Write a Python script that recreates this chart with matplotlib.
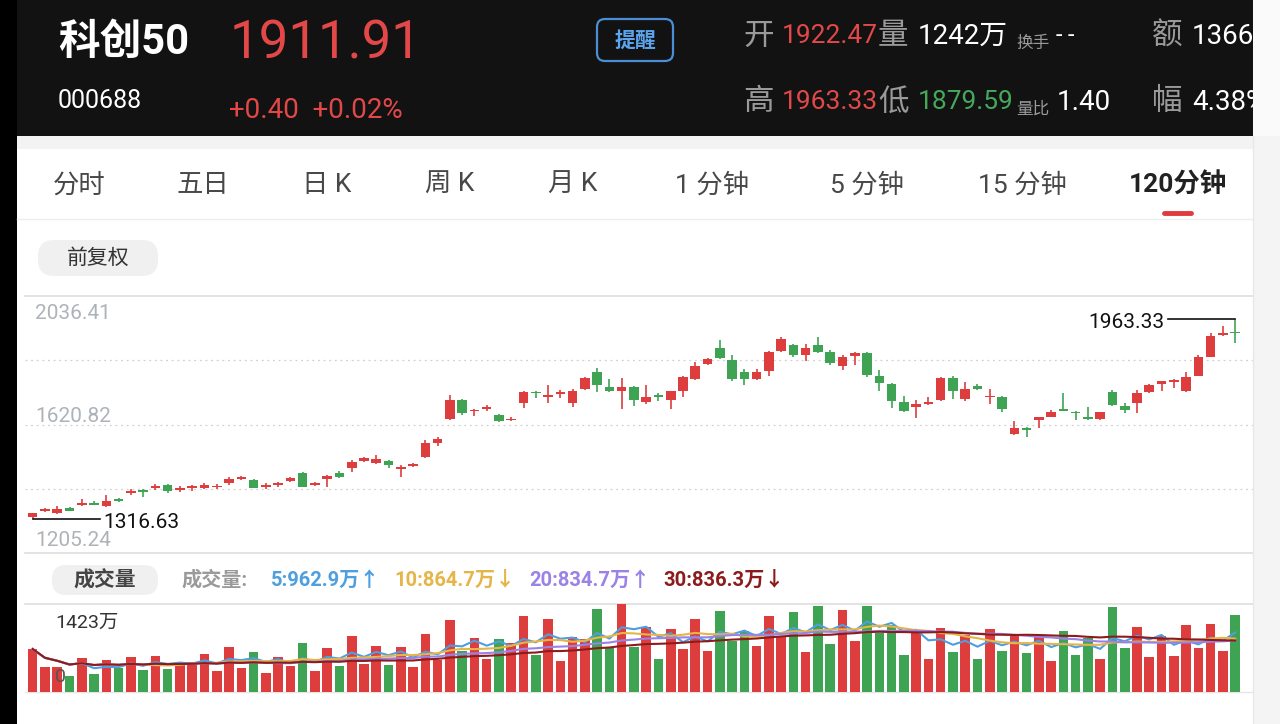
import numpy as np
import pandas as pd
import matplotlib
matplotlib.use('Agg')
import matplotlib.pyplot as plt
from matplotlib.patches import FancyBboxPatch, Rectangle

W, H = 1280, 724
FONT = ['Roboto', 'Noto Sans CJK SC', 'DejaVu Sans']
plt.rcParams['font.family'] = FONT

RED = '#dd3d3d'
GREEN = '#3fa354'

# ---- 120 minute candles of 科创50 (index points) ----
opens = [1320.6, 1340.0, 1335.7, 1351.9, 1359.4, 1365.9, 1358.3, 1378.8, 1398.2, 1409.0,
         1415.5, 1424.1, 1409.0, 1415.5, 1414.4, 1418.7, 1430.6, 1444.6, 1441.3, 1419.8,
         1424.1, 1439.2, 1462.9, 1424.1, 1445.6, 1462.9, 1479.1, 1503.9, 1495.2, 1503.9,
         1478.0, 1486.6, 1514.6, 1559.9, 1637.5, 1700.1, 1663.4, 1669.9, 1651.6, 1635.4,
         1691.4, 1727.0, 1708.7, 1719.5, 1689.3, 1734.6, 1791.7, 1743.2, 1729.2, 1743.2,
         1693.6, 1716.2, 1700.1, 1730.2, 1768.0, 1816.5, 1867.2, 1829.4, 1791.7, 1766.9,
         1794.9, 1858.5, 1877.9, 1845.6, 1876.9, 1855.3, 1810.0, 1842.4, 1853.2, 1777.7,
         1751.8, 1694.7, 1678.5, 1686.0, 1700.1, 1772.3, 1702.2, 1745.3, 1708.7, 1708.7,
         1590.1, 1608.4, 1635.4, 1646.2, 1669.9, 1662.3, 1644.0, 1637.5, 1727.0, 1681.7,
         1689.3, 1727.0, 1751.8, 1757.2, 1730.2, 1778.8, 1840.2, 1909.2, 1920.0]
highs = [1335.7, 1350.8, 1357.3, 1354.0, 1381.0, 1372.3, 1393.9, 1382.1, 1411.2, 1413.3,
         1428.4, 1428.4, 1421.9, 1426.2, 1430.6, 1428.4, 1449.9, 1454.3, 1443.5, 1430.6,
         1435.9, 1452.1, 1466.1, 1435.9, 1457.5, 1471.5, 1506.0, 1514.7, 1523.3, 1506.0,
         1489.9, 1495.2, 1570.7, 1580.4, 1715.2, 1704.4, 1669.9, 1682.8, 1654.8, 1646.2,
         1730.2, 1729.2, 1748.6, 1732.4, 1735.6, 1773.4, 1802.5, 1766.9, 1770.1, 1745.3,
         1748.6, 1721.6, 1730.2, 1777.7, 1824.0, 1834.8, 1894.1, 1845.6, 1799.2, 1799.2,
         1857.4, 1902.7, 1881.2, 1881.2, 1904.9, 1861.8, 1844.5, 1856.4, 1856.4, 1797.1,
         1754.0, 1713.0, 1700.1, 1710.8, 1775.5, 1777.7, 1759.4, 1751.8, 1734.6, 1713.0,
         1633.2, 1613.8, 1646.2, 1667.7, 1723.8, 1664.5, 1676.4, 1662.3, 1732.4, 1689.3,
         1732.4, 1751.8, 1762.6, 1769.0, 1791.7, 1844.5, 1915.7, 1939.4, 1963.33]
lows = [1316.63, 1337.8, 1331.4, 1340.0, 1357.3, 1359.4, 1355.1, 1370.2, 1392.8, 1385.3,
        1409.0, 1398.2, 1402.5, 1405.8, 1411.2, 1413.3, 1426.2, 1441.3, 1414.4, 1413.3,
        1419.8, 1435.9, 1417.6, 1421.9, 1417.6, 1448.9, 1468.3, 1500.6, 1493.1, 1479.1,
        1452.1, 1483.4, 1512.5, 1552.4, 1634.3, 1651.6, 1648.3, 1665.6, 1628.9, 1633.2,
        1673.1, 1705.5, 1691.4, 1705.5, 1678.5, 1732.4, 1727.0, 1727.0, 1671.0, 1680.7,
        1687.1, 1696.8, 1672.0, 1710.8, 1764.8, 1814.3, 1832.7, 1762.6, 1748.6, 1764.8,
        1777.7, 1856.4, 1838.0, 1827.3, 1851.0, 1813.2, 1797.1, 1813.2, 1775.5, 1730.2,
        1673.1, 1662.3, 1640.8, 1683.9, 1697.9, 1702.2, 1697.9, 1732.4, 1687.1, 1662.3,
        1587.9, 1579.3, 1608.4, 1644.0, 1663.4, 1635.4, 1635.4, 1635.4, 1680.7, 1659.1,
        1659.1, 1723.8, 1730.2, 1737.8, 1727.0, 1777.7, 1838.0, 1907.0, 1883.3]
closes = [1333.5, 1348.6, 1346.5, 1342.2, 1368.0, 1361.6, 1374.5, 1373.4, 1405.8, 1402.5,
          1420.8, 1404.7, 1416.5, 1423.0, 1424.1, 1423.0, 1445.6, 1452.1, 1416.5, 1425.2,
          1432.7, 1448.9, 1419.8, 1430.6, 1454.3, 1452.1, 1500.6, 1511.4, 1508.2, 1488.8,
          1484.5, 1492.0, 1562.1, 1575.0, 1700.1, 1659.1, 1667.7, 1678.5, 1633.2, 1639.7,
          1727.0, 1721.6, 1716.2, 1727.0, 1730.2, 1770.1, 1747.5, 1729.2, 1743.2, 1700.1,
          1710.8, 1708.7, 1728.1, 1775.5, 1811.1, 1831.6, 1834.8, 1766.9, 1766.9, 1791.7,
          1855.3, 1896.3, 1845.6, 1867.2, 1856.4, 1818.6, 1840.2, 1851.0, 1780.9, 1754.0,
          1696.8, 1665.6, 1686.0, 1694.7, 1772.3, 1730.2, 1736.7, 1736.7, 1713.0, 1669.9,
          1608.4, 1603.0, 1644.0, 1662.3, 1665.6, 1656.9, 1637.5, 1660.2, 1683.9, 1667.7,
          1721.6, 1748.6, 1760.4, 1764.8, 1775.5, 1840.2, 1907.0, 1917.8, 1916.5]
# volume per candle, in 万
volumes = [691, 404, 404, 257, 545, 285, 512, 377, 566, 350,
           583, 366, 485, 485, 610, 339, 729, 388, 648, 306,
           556, 415, 794, 339, 713, 415, 908, 442, 745, 436,
           729, 404, 930, 512, 1163, 664, 865, 523, 859, 794,
           1228, 593, 1179, 501, 881, 854, 1347, 718, 1418, 729,
           1054, 523, 1021, 686, 1184, 659, 1304, 816, 989, 740,
           1233, 902, 1298, 642, 1385, 767, 1325, 827, 1396, 946,
           1081, 599, 1000, 534, 1027, 642, 919, 523, 1011, 664,
           935, 621, 902, 491, 989, 588, 865, 534, 1379, 713,
           1043, 561, 902, 577, 1076, 713, 1103, 664, 1242]

price_labels = ['2036.41', '1620.82', '1205.24']
vol_top_label = '1423万'
ma_periods = [5, 10, 20, 30]
ma_colors = ['#4d9fe0', '#e6b548', '#9a82e6', '#8c1c1c']
ma_texts = ['5:962.9万↑', '10:864.7万↓', '20:834.7万↑', '30:836.3万↓']
tabs = ['分时', '五日', '日 K', '周 K', '月 K', '1 分钟', '5 分钟', '15 分钟', '120分钟']

fig = plt.figure(figsize=(W / 100, H / 100), dpi=100)
fig.patch.set_facecolor('white')

bg = fig.add_axes([0, 0, 1, 1], zorder=0)
bg.set_xlim(0, W)
bg.set_ylim(H, 0)
bg.axis('off')


def px_axes(x0, y0, x1, y1, z=1):
    a = fig.add_axes([x0 / W, 1 - y1 / H, (x1 - x0) / W, (y1 - y0) / H], zorder=z)
    a.patch.set_alpha(0)
    a.axis('off')
    return a


# ---------------- header ----------------
bg.add_patch(Rectangle((0, 0), W, 136, color='#121212', lw=0))
bg.add_patch(Rectangle((0, 0), 17, H, color='#000000', lw=0))
bg.add_patch(Rectangle((17, 136), 1240, 13, color='#f3f3f3', lw=0))

bg.text(58, 42, '科创50', color='white', fontsize=30, fontweight='bold', va='center')
bg.text(58, 101, '000688', color='white', fontsize=18, va='center')
bg.text(230, 44, '1911.91', color='#e24848', fontsize=38, va='center')
bg.text(229, 110, '+0.40  +0.02%', color='#e24848', fontsize=20, va='center')

bg.add_patch(FancyBboxPatch((597, 19), 76, 42, boxstyle='round,pad=0,rounding_size=8',
                            fc='none', ec='#4a8fd6', lw=1.6))
bg.text(635, 41, '提醒', color='#5aa5ee', fontsize=15, fontweight='bold', ha='center', va='center')

gray_h = '#9a9a9a'
for y, items in [(36, [('开', gray_h, 22, 743), ('1922.47', '#e24848', 19, 782),
                       ('量', gray_h, 22, 878), ('1242万', 'white', 20, 918),
                       ('-', 'white', 17, 1056), ('-', 'white', 17, 1068),
                       ('额', gray_h, 22, 1152), ('1366', 'white', 20, 1192)]),
                 (102, [('高', gray_h, 22, 743), ('1963.33', '#e24848', 19, 782),
                        ('低', gray_h, 22, 878), ('1879.59', '#45a85a', 19, 918),
                        ('1.40', 'white', 20, 1057), ('幅', gray_h, 22, 1152), ('4.38%', 'white', 20, 1192)])]:
    for txt, col, fs, x in items:
        bg.text(x, y, txt, color=col, fontsize=fs, va='center')
bg.text(1016, 43, '换手', color=gray_h, fontsize=12, va='center')
bg.text(1016, 109, '量比', color=gray_h, fontsize=12, va='center')

# ---------------- tabs ----------------
tab_x = [79, 203, 327, 450, 573, 712, 867, 1022, 1178]
for name, x in zip(tabs, tab_x):
    last = name == tabs[-1]
    bg.text(x, 185, name, color='#222222' if last else '#484848', fontsize=19,
            fontweight='bold' if last else 'normal', ha='center', va='center')
bg.plot([1164, 1191], [213, 213], color='#e03a3a', lw=3.5, solid_capstyle='round')
bg.plot([17, 1253], [219, 219], color='#eeeeee', lw=1)

bg.add_patch(FancyBboxPatch((38, 240), 120, 36, boxstyle='round,pad=0,rounding_size=16',
                            fc='#f0f0f0', ec='none'))
bg.text(98, 258, '前复权', color='#333333', fontsize=15, ha='center', va='center')

# ---------------- price panel ----------------
X0, X1, STEP, FIRST = 25, 1253, 12.27, 32.7
ax = px_axes(X0, 296, X1, 553)
ax.set_xlim((X0 - FIRST) / STEP, (X1 - FIRST) / STEP)
p_hi, p_lo = float(price_labels[0]), float(price_labels[-1])
ax.set_ylim(p_lo, p_hi)
for k, lv in enumerate(np.linspace(p_hi, p_lo, 5)):
    if k in (0, 4):
        ax.axhline(lv, color='#dedede', lw=1.2, clip_on=False)
    else:
        ax.axhline(lv, color='#d0d0d0', lw=0.9, ls=(0, (1.5, 3)))

idx = np.arange(len(opens))
o, h, l, c = map(np.array, (opens, highs, lows, closes))
cols = np.where(c >= o, RED, GREEN)
ax.vlines(idx, l, h, colors=cols, lw=1.2, zorder=3)
ax.bar(idx, np.maximum(np.abs(c - o), 3.0), bottom=np.minimum(o, c), width=0.78,
       color=cols, lw=0, zorder=4)

for txt, yf in zip(price_labels, [0.93, 0.53, 0.05]):
    ax.text(0.008, yf, txt, transform=ax.transAxes, color='#aeb3b8', fontsize=15, va='center')

imax, imin = int(np.argmax(h)), int(np.argmin(l))
ax.plot([imax - 5.5, imax], [h[imax]] * 2, color='#111111', lw=1.2, zorder=5)
ax.annotate(f'{h[imax]:.2f}', (imax - 5.75, h[imax]), xytext=(0, -3), textcoords='offset points',
            color='#111111', fontsize=15, ha='right', va='center')
ax.plot([imin, imin + 5.5], [l[imin]] * 2, color='#111111', lw=1.2, zorder=5)
ax.annotate(f'{l[imin]:.2f}', (imin + 5.75, l[imin]), xytext=(0, -3), textcoords='offset points',
            color='#111111', fontsize=15, ha='left', va='center')

# ---------------- volume panel ----------------
bg.add_patch(FancyBboxPatch((52, 565), 106, 30, boxstyle='round,pad=0,rounding_size=14',
                            fc='#f0f0f0', ec='none'))
bg.text(105, 580, '成交量', color='#444444', fontsize=15, fontweight='bold', ha='center', va='center')
bg.text(182, 580, '成交量:', color='#9a9a9a', fontsize=14.5, fontweight='bold', va='center')
for txt, col, x in zip(ma_texts, ma_colors, [271, 394, 529, 663]):
    bg.text(x, 580, txt, color=col, fontsize=14.5, fontweight='bold', va='center')
bg.plot([25, 1253], [604, 604], color='#dedede', lw=1.2)
bg.plot([25, 1253], [692, 692], color='#e6e6e6', lw=1.0)

vax = px_axes(X0, 604, X1, 691.5, z=2)
vax.set_xlim(ax.get_xlim())
vax.set_ylim(0, float(vol_top_label.rstrip('万')))
vax.bar(idx, volumes, width=0.78, color=cols, lw=0)
vs = pd.Series(volumes, dtype=float)
for n, col in zip(ma_periods, ma_colors):
    vax.plot(idx, vs.rolling(n, min_periods=1).mean(), color=col, lw=1.5)

top = fig.add_axes([0, 0, 1, 1], zorder=10)
top.patch.set_alpha(0)
top.set_xlim(0, W)
top.set_ylim(H, 0)
top.axis('off')
top.text(55, 623, vol_top_label, color='#333333', fontsize=14, va='center')
top.text(55, 677, '0', color='#555555', fontsize=14, va='center')
top.add_patch(Rectangle((1253, 0), 27, 136, color='#fafafa', lw=0))
top.add_patch(Rectangle((1253, 136), 27, H - 136, color='#f4f4f4', lw=0))
top.plot([1253, 1253], [136, H], color='#e8e8e8', lw=1)

fig.savefig('out.png', dpi=100)
